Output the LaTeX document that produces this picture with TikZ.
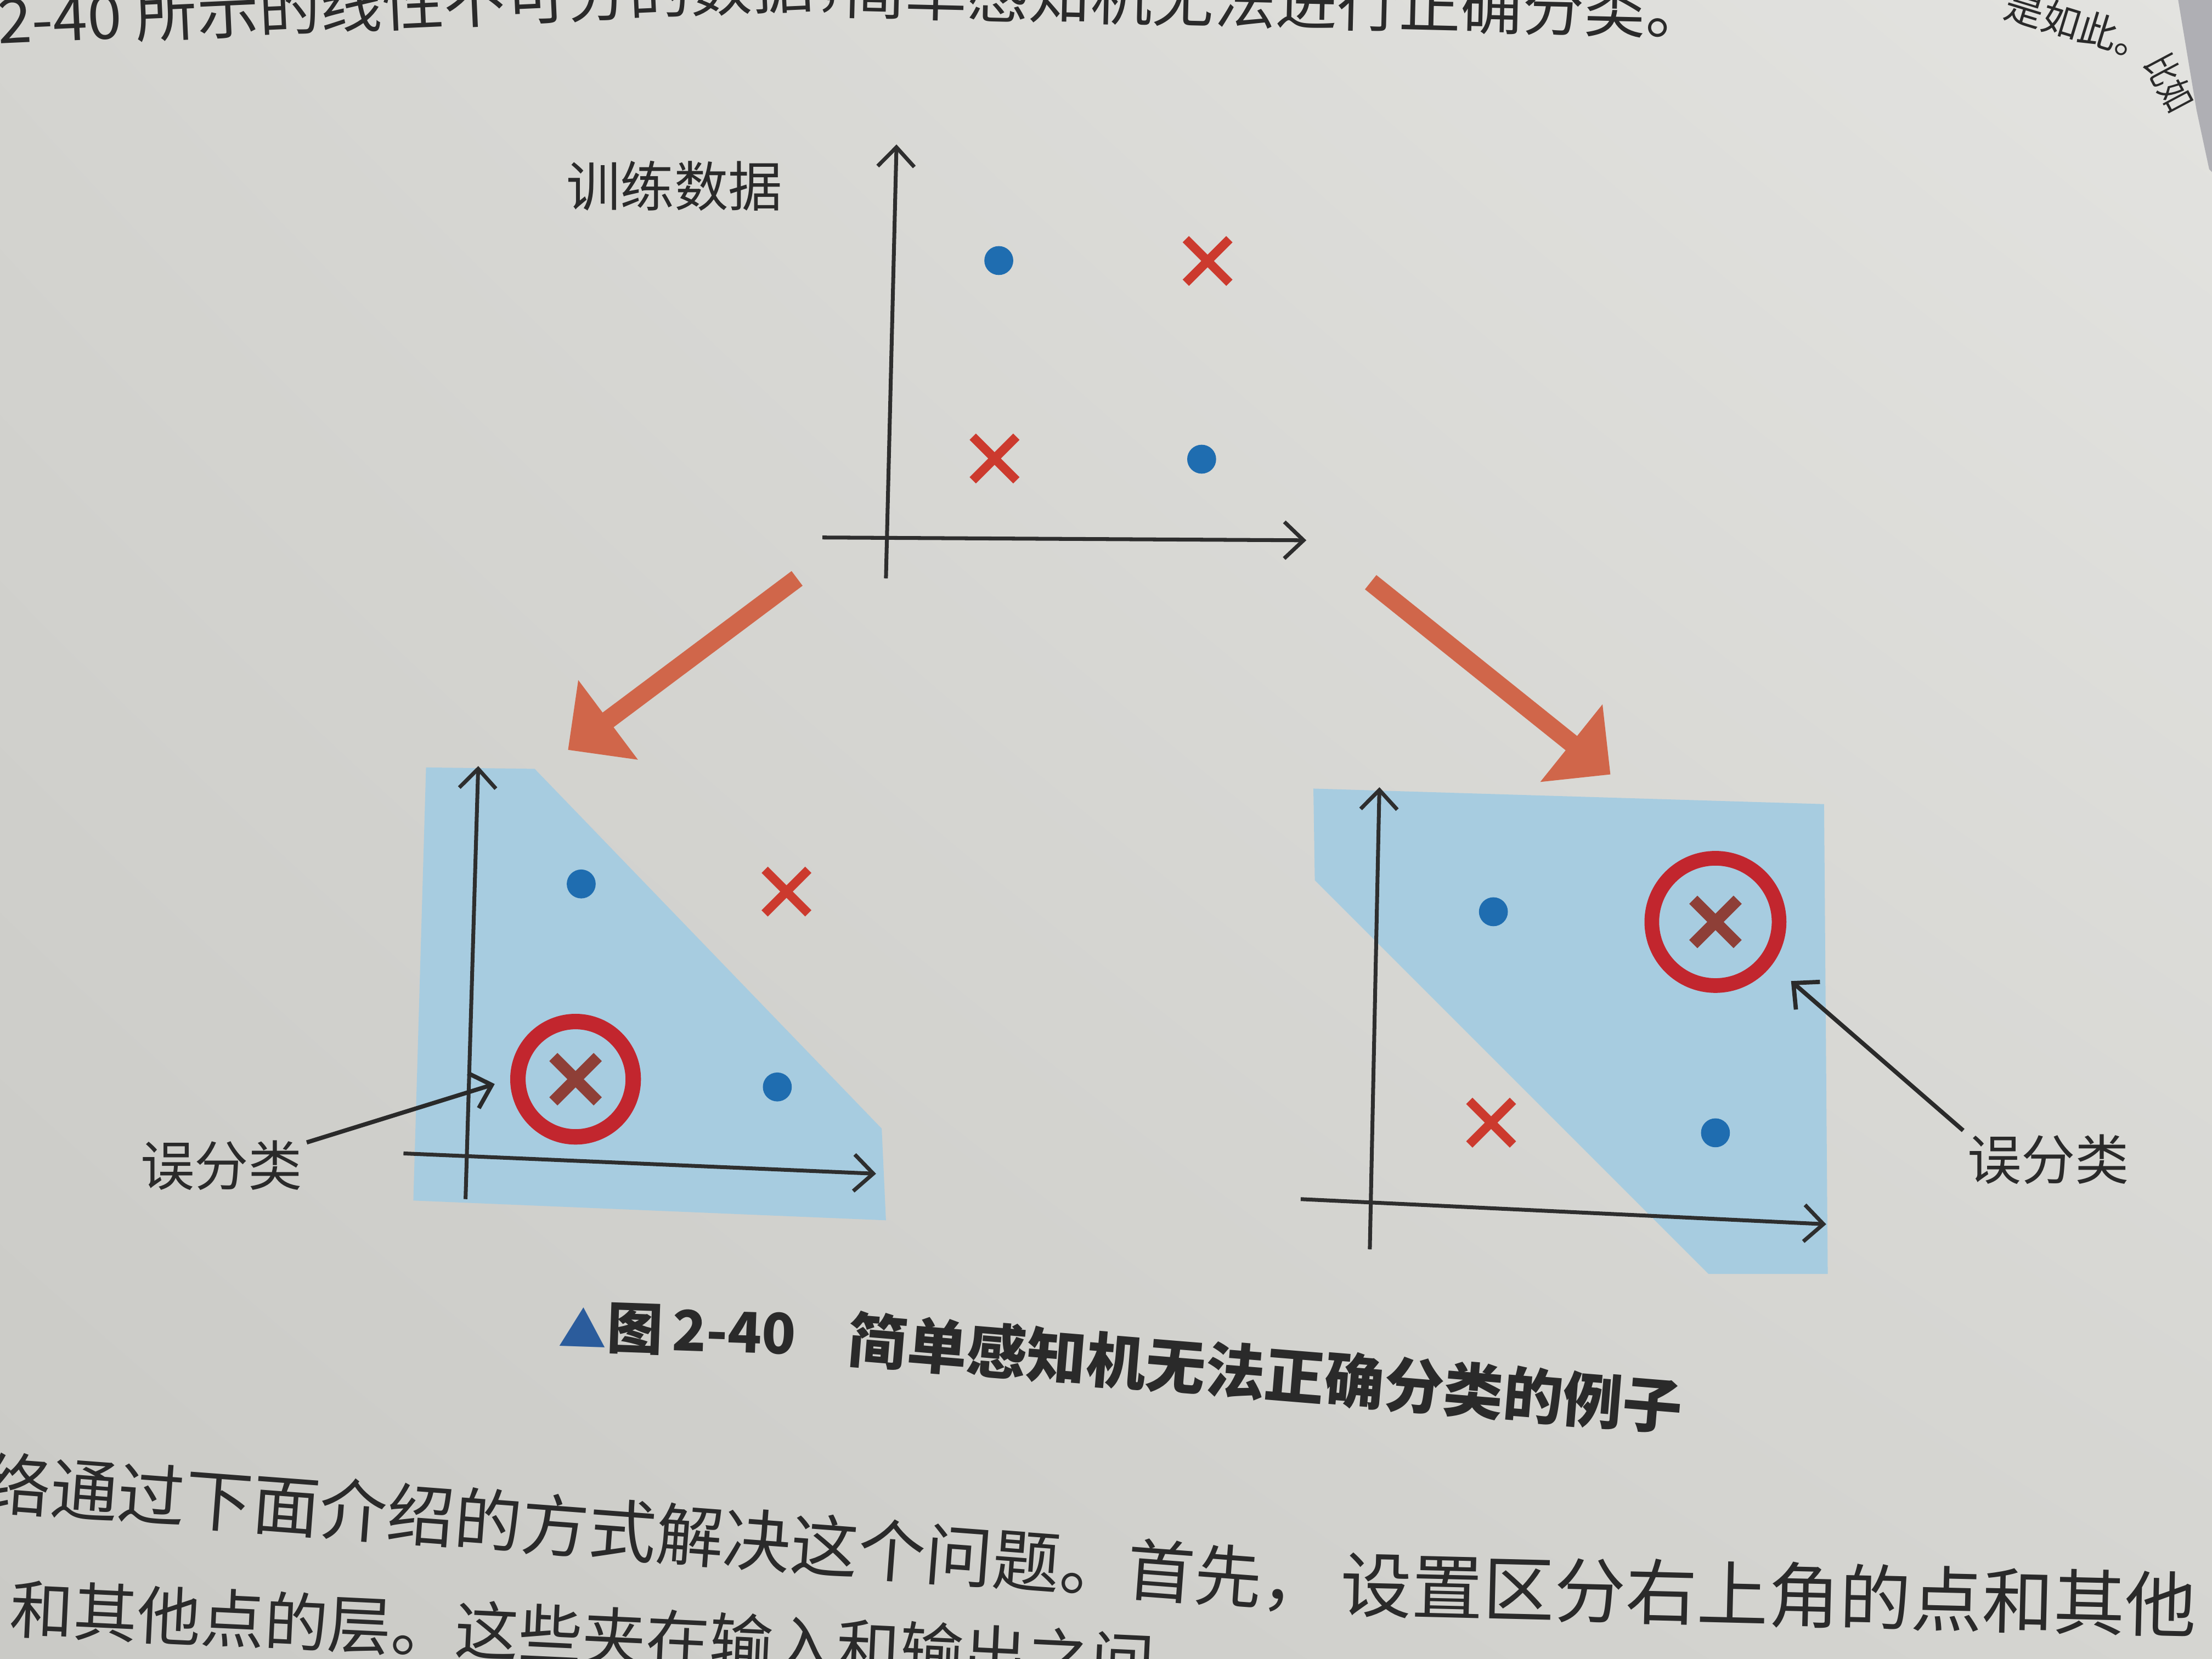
\documentclass[tikz,border=0pt]{standalone}
\usepackage{fontspec}
\setmainfont{Noto Sans CJK SC}
\usetikzlibrary{arrows.meta,shapes.misc,shadings}
\definecolor{ink}{HTML}{2A2A2A}
\definecolor{axisc}{HTML}{2E2E2E}
\definecolor{dotblue}{HTML}{1F6DB0}
\definecolor{xred}{HTML}{CC3A2E}
\definecolor{xdark}{HTML}{8E3F37}
\definecolor{ringred}{HTML}{C2262E}
\definecolor{regionblue}{HTML}{A7CCE0}
\definecolor{arrowor}{HTML}{D0664A}
\definecolor{capblue}{HTML}{2B5C9C}
\definecolor{edgegray}{HTML}{AFAFB4}
\definecolor{paperUL}{HTML}{D4D4D0}
\definecolor{paperUR}{HTML}{E3E3E0}
\definecolor{paperLL}{HTML}{CACAC6}
\definecolor{paperLR}{HTML}{D5D5D1}
\begin{document}
\begin{tikzpicture}[x=0.025714cm,y=-0.025714cm,
 axisarrow/.style={draw=axisc,line width=2pt,-{Straight Barb[length=10pt,width=19pt]}},
 missarrow/.style={draw=ink,line width=2.2pt,-{Straight Barb[length=10pt,width=19pt]}},
 bigarrow/.style={draw=arrowor,line width=9.5pt,-{Triangle[length=26pt,width=50pt]}},
 dot/.style={circle,fill=dotblue,inner sep=0pt,minimum size=15pt},
 xmk/.style={cross out,draw=xred,line width=4.6pt,inner sep=0pt,minimum size=18pt},
 xmkdark/.style={cross out,draw=xdark,line width=6pt,inner sep=0pt,minimum size=17pt},
 ring/.style={circle,draw=ringred,inner sep=0pt},
 region/.style={fill=regionblue},
 lbl/.style={font=\fontsize{28pt}{32pt}\selectfont,text=ink,inner sep=2pt},
 bodytxt/.style={font=\fontsize{33pt}{36pt}\selectfont,text=ink,inner sep=0pt,anchor=west},
 captxt/.style={font=\bfseries\fontsize{31pt}{35pt}\selectfont,text=ink,inner sep=0pt,anchor=west}]
\useasboundingbox (0,0) rectangle (1568,1176);
\clip (0,0) rectangle (1568,1176);
% paper
\shade[upper left=paperUL,upper right=paperUR,lower left=paperLL,lower right=paperLR] (0,0) rectangle (1568,1176);
\fill[edgegray] (1544,0) -- (1568,0) -- (1568,122) -- (1566,120) -- (1557,78) -- cycle;

% ---------- surrounding page text ----------
\node[bodytxt,font=\fontsize{32pt}{36pt}\selectfont,rotate=2.6] (topA) at (-2,15) {2-40 所示的线性不可分的数据，};
\node[bodytxt,font=\fontsize{32pt}{36pt}\selectfont,rotate=-1.4] (topB) at (598,-7) {简单感知机无法进行正确分类。};
\node[bodytxt,font=\fontsize{20pt}{24pt}\selectfont,rotate=-17] (topC) at (1422,2) {是如此。};
\node[bodytxt,font=\fontsize{19pt}{22pt}\selectfont,rotate=-62,xscale=0.8] (topD) at (1528,40) {比如};
\node[bodytxt,font=\fontsize{35pt}{38pt}\selectfont,rotate=-4.3] (botA) at (-12,1051) {络通过下面介绍的方式解决这个问题。首先，};
\node[bodytxt,font=\fontsize{37pt}{40pt}\selectfont,rotate=-1.4] (botB) at (950,1123) {设置区分右上角的点和其他};
\node[bodytxt,rotate=-2.7] (botC) at (7,1140) {和其他点的层。这些夹在输入和输出之间};

% ---------- top chart ----------
\coordinate (tyb) at (628,410);
\coordinate (tyt) at (635.5,102.4);
\coordinate (txl) at (583,381);
\coordinate (txr) at (926,383);
\draw[axisarrow] (tyb) -- (tyt);
\draw[axisarrow] (txl) -- (txr);
\node[dot] (tb1) at (708,184.7) {};
\node[dot] (tb2) at (851.8,325.5) {};
\node[xmk] (tx1) at (856,185) {};
\node[xmk] (tx2) at (705,325) {};
\node[lbl] (tlab) at (478,132) {训练数据};

% ---------- orange arrows ----------
\coordinate (oLs) at (565,410);
\coordinate (oLe) at (402.6,531.6);
\coordinate (oRs) at (971.6,412.7);
\coordinate (oRe) at (1141.6,549);
\draw[bigarrow] (oLs) -- (oLe);
\draw[bigarrow] (oRs) -- (oRe);

% ---------- left chart ----------
\fill[region] (302,544) -- (379,545) -- (625,800) -- (628,865) -- (293,851) -- cycle;
\coordinate (lyb) at (330,850);
\coordinate (lyt) at (339,543);
\coordinate (lxl) at (286,817.6);
\coordinate (lxr) at (621,832);
\draw[axisarrow] (lyb) -- (lyt);
\draw[axisarrow] (lxl) -- (lxr);
\node[dot] (lb1) at (412,626.6) {};
\node[dot] (lb2) at (551,770.5) {};
\node[xmk] (lx1) at (557.5,632) {};
\node[ring,line width=8pt,minimum size=59.8pt] (cL) at (408,765) {};
\node[xmkdark] (lx2) at (408,765) {};
\node[lbl] (mL) at (157,826) {误分类};
\draw[missarrow,shorten >=8.4pt] (mL.15) -- (cL.west);

% ---------- right chart ----------
\fill[region] (931,559) -- (1293,570) -- (1295.6,903) -- (1211,903) -- (932,624) -- cycle;
\coordinate (ryb) at (971,885.6);
\coordinate (ryt) at (977.8,558);
\coordinate (rxl) at (922,850);
\coordinate (rxr) at (1294.5,867.8);
\draw[axisarrow] (ryb) -- (ryt);
\draw[axisarrow] (rxl) -- (rxr);
\node[dot] (rb1) at (1058.6,646.3) {};
\node[dot] (rb2) at (1216,803) {};
\node[xmk] (rx1) at (1057,795.8) {};
\node[ring,line width=7.6pt,minimum size=66pt] (cR) at (1216,653.5) {};
\node[xmkdark] (rx2) at (1216,653.5) {};
\node[lbl] (mR) at (1452,822) {误分类};
\draw[missarrow,shorten >=13pt] (mR.north west) -- (cR.-37);

% ---------- caption ----------
\node[captxt,font=\bfseries\fontsize{29pt}{33pt}\selectfont,rotate=-2] (capA) at (396,940) {{\color{capblue}\fontsize{25pt}{28pt}\selectfont▲}图\,2-40};
\node[captxt,rotate=-4.7] (capB) at (601,949) {简单感知机无法正确分类的例子};
\end{tikzpicture}
\end{document}
